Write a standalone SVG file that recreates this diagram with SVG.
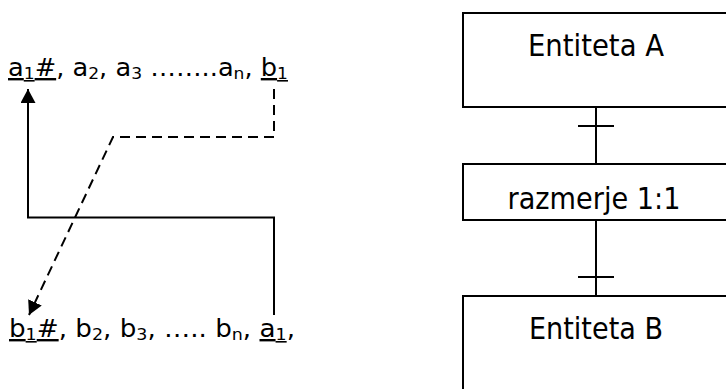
<svg xmlns="http://www.w3.org/2000/svg" width="726" height="389" viewBox="0 0 726 389">
<style>
  .lt { font-family: "DejaVu Sans", Verdana, sans-serif; font-size: 24px; fill: #000; }
  .sub { font-size: 16px; }
  .u { text-decoration: underline; }
  .rt { font-family: "DejaVu Sans", Verdana, sans-serif; font-size: 31px; fill: #000; text-anchor: middle; }
  .box { fill: #fff; stroke: #000; stroke-width: 2; }
  .solid { fill: none; stroke: #000; stroke-width: 2; }
  .dash { fill: none; stroke: #000; stroke-width: 2; stroke-dasharray: 10 6; }
</style>
<defs>
  <marker id="arr" markerUnits="userSpaceOnUse" markerWidth="15" markerHeight="15" refX="14" refY="7.5" orient="auto">
    <path d="M0,0 L14,7.5 L0,15 Z" fill="#000"/>
  </marker>
</defs>
<rect width="726" height="389" fill="#fff"/>

<g id="text-a">
  <text class="lt" x="8" y="76" textLength="280" lengthAdjust="spacingAndGlyphs"><tspan class="u">a<tspan class="sub" baseline-shift="-3">1</tspan>#</tspan>, a<tspan class="sub" baseline-shift="-3">2</tspan>, a<tspan class="sub" baseline-shift="-3">3</tspan> ……..a<tspan class="sub" baseline-shift="-3">n</tspan>, <tspan class="u">b<tspan class="sub" baseline-shift="-3">1</tspan></tspan></text>
</g>
<g id="text-b">
  <text class="lt" x="9" y="337" textLength="286" lengthAdjust="spacingAndGlyphs"><tspan class="u">b<tspan class="sub" baseline-shift="-3">1</tspan>#</tspan>, b<tspan class="sub" baseline-shift="-3">2</tspan>, b<tspan class="sub" baseline-shift="-3">3</tspan>, ….. b<tspan class="sub" baseline-shift="-3">n</tspan>, <tspan class="u">a<tspan class="sub" baseline-shift="-3">1</tspan></tspan>,</text>
</g>

<g id="entity-a">
  <rect class="box" x="463" y="13" width="280" height="94"/>
  <text class="rt" x="596" y="56" textLength="136" lengthAdjust="spacingAndGlyphs">Entiteta A</text>
</g>
<g id="relationship">
  <rect class="box" x="463" y="164" width="280" height="56"/>
  <text class="rt" x="594" y="209" textLength="173" lengthAdjust="spacingAndGlyphs">razmerje 1:1</text>
</g>
<g id="entity-b">
  <rect class="box" x="463" y="296" width="280" height="110"/>
  <text class="rt" x="596" y="339" textLength="134" lengthAdjust="spacingAndGlyphs">Entiteta B</text>
</g>

<g id="connectors">
  <path class="solid" d="M274,315 V217.5 H28 V89" marker-end="url(#arr)"/>
  <path class="dash" d="M274,89 V137 H113 L29,315" marker-end="url(#arr)"/>
  <path class="solid" d="M596,107 V164 M578,126 H614"/>
  <path class="solid" d="M596,220 V296 M578,277 H614"/>
</g>
</svg>
